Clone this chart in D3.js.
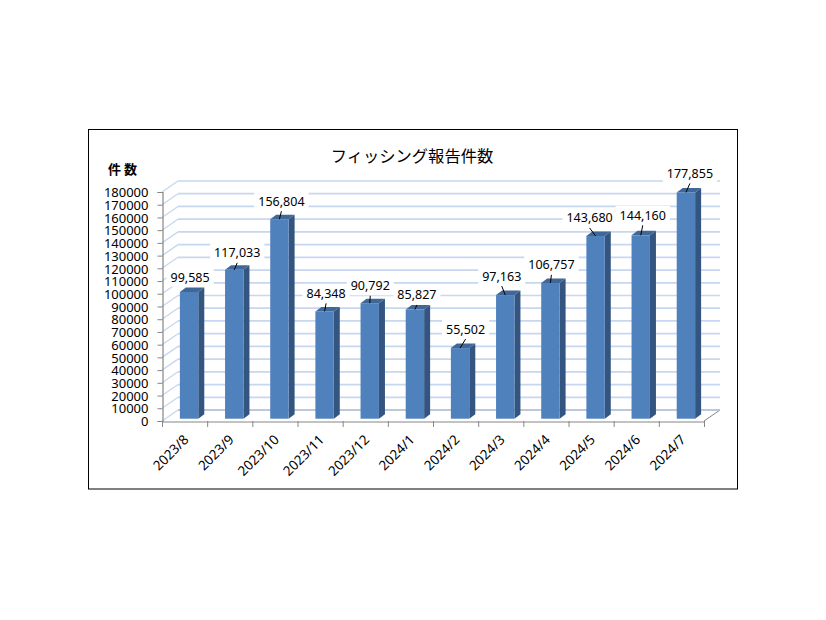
<!DOCTYPE html>
<html>
<head>
<meta charset="utf-8">
<script src="https://cdnjs.cloudflare.com/ajax/libs/d3/7.8.5/d3.min.js"></script>
<style>
html, body { margin: 0; padding: 0; background: #fff; }
svg { display: block; }
text { font-family: "Noto Sans", sans-serif; fill: #000; }
</style>
</head>
<body>
<script>
//DATA
var categories = ["2023/8", "2023/9", "2023/10", "2023/11", "2023/12", "2024/1",
                  "2024/2", "2024/3", "2024/4", "2024/5", "2024/6", "2024/7"];
var reports = [99585, 117033, 156804, 84348, 90792, 85827,
               55502, 97163, 106757, 143680, 144160, 177855];
var yTicks = d3.range(0, 180001, 10000);

var titleText = "フィッシング報告件数";
var yUnitText = "件数";

//hand placed data labels: offset of the label from the top of its bar
var labelOffsets = [[1, -15], [3, -17], [2, -18], [1.5, -18], [0.5, -17.4], [2, -14.6],
                    [5.5, -19], [-3.5, -19], [1, -18], [-6, -18], [2, -20], [4, -19]];
var noLeader = ["2023/8"];

//GENERAL VARIABLES
var width = 826,
    height = 620,
    plotLeft = 162, plotRight = 704,
    plotBottom = 421, plotTop = 192,
    depthX = 16, depthY = -11,   // back wall of the 3d box
    gapX = 4.5, gapY = -2.3,     // bar front plane inside the box
    barW = 18.4, barDX = 6, barDY = -4.5;

var x = d3.scaleBand().domain(categories).range([plotLeft, plotRight]);
var y = d3.scaleLinear().domain([0, 180000]).range([plotBottom, plotTop]);

var fmt = d3.format(",");
var line = d3.line();

var svg = d3.select("body").append("svg")
    .attr("width", width)
    .attr("height", height);

svg.append("rect")
    .attr("x", 88.5).attr("y", 129.5)
    .attr("width", 649).attr("height", 359.5)
    .attr("fill", "#fff")
    .attr("stroke", "#000");

//GRID: back wall lines and the left wall diagonals
var gridColor = "#c6d7ef";
svg.append("g").selectAll("line.back")
    .data(yTicks)
    .enter().append("line")
    .attr("class", "back")
    .attr("x1", plotLeft + depthX).attr("x2", plotRight + depthX)
    .attr("y1", function(d) { return y(d) + depthY; })
    .attr("y2", function(d) { return y(d) + depthY; })
    .attr("stroke", gridColor)
    .attr("stroke-width", 1.7);
svg.append("g").selectAll("line.wall")
    .data(yTicks)
    .enter().append("line")
    .attr("class", "wall")
    .attr("x1", plotLeft).attr("x2", plotLeft + depthX)
    .attr("y1", function(d) { return y(d); })
    .attr("y2", function(d) { return y(d) + depthY; })
    .attr("stroke", gridColor)
    .attr("stroke-width", 1.3);

//floor edge on the right
svg.append("line")
    .attr("x1", plotRight).attr("y1", plotBottom)
    .attr("x2", plotRight + depthX).attr("y2", plotBottom + depthY)
    .attr("stroke", "#868686");
svg.append("line")
    .attr("x1", plotLeft + depthX).attr("y1", plotBottom + depthY)
    .attr("x2", plotRight + depthX).attr("y2", plotBottom + depthY)
    .attr("stroke", "#b4c0d0")
    .attr("stroke-width", 1.5);

//AXES
var yAxis = d3.axisLeft(y).tickValues(yTicks).tickFormat(d3.format("d"))
    .tickSize(5).tickPadding(9);
var yG = svg.append("g")
    .attr("transform", "translate(" + (plotLeft + 0.5) + ",0)")
    .call(yAxis);
yG.selectAll("text").attr("font-size", 13).attr("font-family", '"Noto Sans", sans-serif').attr("dy", "0.36em");
yG.selectAll("line, path").attr("stroke", "#868686");
yG.select(".domain").attr("stroke-width", 1.2);

var xAxis = d3.axisBottom(x).tickSize(0).tickPadding(0);
var xG = svg.append("g")
    .attr("transform", "translate(0," + (plotBottom + 0.5) + ")")
    .call(xAxis);
xG.selectAll("line").remove();
xG.select(".domain").attr("stroke", "#868686").attr("stroke-width", 1.2);
xG.selectAll("text")
    .attr("font-size", 13.5)
    .attr("font-family", '"Noto Sans", sans-serif')
    .attr("text-anchor", "end")
    .attr("dy", 0)
    .attr("y", 0)
    .attr("transform", "translate(5,19) rotate(-45)");

var boundaries = categories.map(function(c) { return x(c); }).concat([plotRight]);
svg.append("g").selectAll("line")
    .data(boundaries)
    .enter().append("line")
    .attr("x1", function(d) { return d + 0.5; })
    .attr("x2", function(d) { return d + 0.5; })
    .attr("y1", plotBottom).attr("y2", plotBottom + 6)
    .attr("stroke", "#868686");

//BARS
var rows = categories.map(function(c, i) {
    var x0 = x(c) + (x.bandwidth() - barW) / 2 + gapX;
    return {
        cat: c, value: reports[i], off: labelOffsets[i],
        x0: x0, x1: x0 + barW,
        yTop: y(reports[i]) + gapY, yBase: y(0) + gapY
    };
});

var bars = svg.append("g").selectAll("g")
    .data(rows)
    .enter().append("g");

bars.append("path")
    .attr("fill", "#34557f")
    .attr("d", function(d) {
        return line([[d.x1, d.yTop], [d.x1 + barDX, d.yTop + barDY],
                     [d.x1 + barDX, d.yBase + barDY], [d.x1, d.yBase]]) + "Z";
    });
bars.append("path")
    .attr("fill", "#3f6797")
    .attr("d", function(d) {
        return line([[d.x0, d.yTop], [d.x0 + barDX, d.yTop + barDY],
                     [d.x1 + barDX, d.yTop + barDY], [d.x1, d.yTop]]) + "Z";
    });
bars.append("rect")
    .attr("fill", "#4f81bd")
    .attr("x", function(d) { return d.x0; })
    .attr("y", function(d) { return d.yTop; })
    .attr("width", barW)
    .attr("height", function(d) { return d.yBase - d.yTop; });

//DATA LABELS with white box and leader line
var labels = svg.append("g").selectAll("g")
    .data(rows)
    .enter().append("g");

labels.append("text")
    .attr("class", "value")
    .attr("font-size", 12.5)
    .attr("text-anchor", "middle")
    .attr("dy", "0.36em")
    .attr("x", function(d) { return (d.x0 + d.x1) / 2 + d.off[0]; })
    .attr("y", function(d) { return d.yTop + d.off[1]; })
    .text(function(d) { return fmt(d.value); });

labels.insert("rect", "text")
    .attr("fill", "#fff")
    .each(function() {
        var b = this.parentNode.querySelector("text").getBBox();
        d3.select(this)
            .attr("x", b.x - 4).attr("y", b.y - 1)
            .attr("width", b.width + 8).attr("height", b.height + 2);
    });

labels.filter(function(d) { return noLeader.indexOf(d.cat) < 0; })
    .append("line")
    .attr("stroke", "#000")
    .attr("x1", function(d) { return (d.x0 + d.x1) / 2 + d.off[0]; })
    .attr("y1", function(d) { return d.yTop + d.off[1] + 10; })
    .attr("x2", function(d) { return (d.x0 + d.x1) / 2; })
    .attr("y2", function(d) { return d.yTop; });

//TITLES
svg.append("text")
    .attr("x", 412).attr("y", 162)
    .attr("text-anchor", "middle")
    .attr("font-size", 16.3)
    .style("font-family", '"Noto Sans CJK JP", sans-serif')
    .text(titleText);

svg.append("text")
    .attr("x", 108).attr("y", 174)
    .attr("font-size", 13)
    .attr("font-weight", "bold")
    .attr("letter-spacing", 3)
    .style("font-family", '"Noto Sans CJK JP", sans-serif')
    .text(yUnitText);
</script>
</body>
</html>
